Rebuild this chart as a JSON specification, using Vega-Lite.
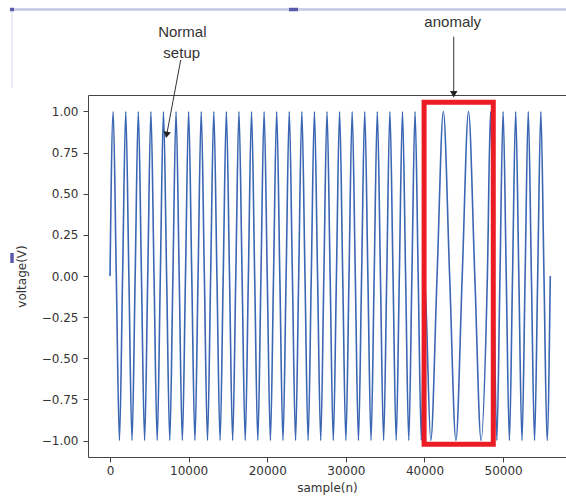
{
  "$schema": "https://vega.github.io/schema/vega-lite/v6.json",
  "autosize": {"type": "none"},
  "padding": {"left": 88, "top": 95, "right": 0, "bottom": 43},
  "width": 478,
  "height": 362,
  "background": "white",
  "config": {
    "view": {"stroke": "#444", "strokeWidth": 1},
    "font": "DejaVu Sans",
    "axis": {
      "labelFont": "DejaVu Sans", "labelFontSize": 12, "labelColor": "#333",
      "titleFont": "DejaVu Sans", "titleFontSize": 12, "titleFontWeight": "normal", "titleColor": "#333",
      "tickColor": "#444", "tickSize": 5, "domain": false, "grid": false
    }
  },
  "encoding": {
    "x": {"field": "n", "type": "quantitative",
      "scale": {"domain": [-2800, 58000], "nice": false, "zero": false},
      "axis": {"values": [0, 10000, 20000, 30000, 40000, 50000], "format": "d", "title": "sample(n)", "labelPadding": 3, "titlePadding": 6, "labelFlush": false}},
    "y": {"field": "v", "type": "quantitative",
      "scale": {"domain": [-1.1, 1.1], "nice": false, "zero": false},
      "axis": {"values": [-1, -0.75, -0.5, -0.25, 0, 0.25, 0.5, 0.75, 1], "format": ".2f", "title": "voltage(V)", "labelPadding": 5, "titlePadding": 13}}
  },
  "layer": [
    {
      "data": {"values": [
        {"n":0,"v":0},{"n":400,"v":1},{"n":800,"v":0},{"n":1200,"v":-1},
        {"n":1600,"v":0},{"n":2000,"v":1},{"n":2400,"v":0},{"n":2800,"v":-1},
        {"n":3200,"v":0},{"n":3600,"v":1},{"n":4000,"v":0},{"n":4400,"v":-1},
        {"n":4800,"v":0},{"n":5200,"v":1},{"n":5600,"v":0},{"n":6000,"v":-1},
        {"n":6400,"v":0},{"n":6800,"v":1},{"n":7200,"v":0},{"n":7600,"v":-1},
        {"n":8000,"v":0},{"n":8400,"v":1},{"n":8800,"v":0},{"n":9200,"v":-1},
        {"n":9600,"v":0},{"n":10000,"v":1},{"n":10400,"v":0},{"n":10800,"v":-1},
        {"n":11200,"v":0},{"n":11600,"v":1},{"n":12000,"v":0},{"n":12400,"v":-1},
        {"n":12800,"v":0},{"n":13200,"v":1},{"n":13600,"v":0},{"n":14000,"v":-1},
        {"n":14400,"v":0},{"n":14800,"v":1},{"n":15200,"v":0},{"n":15600,"v":-1},
        {"n":16000,"v":0},{"n":16400,"v":1},{"n":16800,"v":0},{"n":17200,"v":-1},
        {"n":17600,"v":0},{"n":18000,"v":1},{"n":18400,"v":0},{"n":18800,"v":-1},
        {"n":19200,"v":0},{"n":19600,"v":1},{"n":20000,"v":0},{"n":20400,"v":-1},
        {"n":20800,"v":0},{"n":21200,"v":1},{"n":21600,"v":0},{"n":22000,"v":-1},
        {"n":22400,"v":0},{"n":22800,"v":1},{"n":23200,"v":0},{"n":23600,"v":-1},
        {"n":24000,"v":0},{"n":24400,"v":1},{"n":24800,"v":0},{"n":25200,"v":-1},
        {"n":25600,"v":0},{"n":26000,"v":1},{"n":26400,"v":0},{"n":26800,"v":-1},
        {"n":27200,"v":0},{"n":27600,"v":1},{"n":28000,"v":0},{"n":28400,"v":-1},
        {"n":28800,"v":0},{"n":29200,"v":1},{"n":29600,"v":0},{"n":30000,"v":-1},
        {"n":30400,"v":0},{"n":30800,"v":1},{"n":31200,"v":0},{"n":31600,"v":-1},
        {"n":32000,"v":0},{"n":32400,"v":1},{"n":32800,"v":0},{"n":33200,"v":-1},
        {"n":33600,"v":0},{"n":34000,"v":1},{"n":34400,"v":0},{"n":34800,"v":-1},
        {"n":35200,"v":0},{"n":35600,"v":1},{"n":36000,"v":0},{"n":36400,"v":-1},
        {"n":36800,"v":0},{"n":37200,"v":1},{"n":37600,"v":0},{"n":38000,"v":-1},
        {"n":38400,"v":0},{"n":38800,"v":1},{"n":39200,"v":0},{"n":39600,"v":-1},
        {"n":40000,"v":0},{"n":40800,"v":-1},{"n":41600,"v":0},{"n":42400,"v":1},
        {"n":43200,"v":0},{"n":44000,"v":-1},{"n":44800,"v":0},{"n":45600,"v":1},
        {"n":46400,"v":0},{"n":47200,"v":-1},{"n":48000,"v":0},
        {"n":48400,"v":1},{"n":48800,"v":0},{"n":49200,"v":-1},
        {"n":49600,"v":0},{"n":50000,"v":1},{"n":50400,"v":0},{"n":50800,"v":-1},
        {"n":51200,"v":0},{"n":51600,"v":1},{"n":52000,"v":0},{"n":52400,"v":-1},
        {"n":52800,"v":0},{"n":53200,"v":1},{"n":53600,"v":0},{"n":54000,"v":-1},
        {"n":54400,"v":0},{"n":54800,"v":1},{"n":55200,"v":0},{"n":55600,"v":-1},
        {"n":56000,"v":0}
      ]},
      "mark": {"type": "line", "color": "#3a66b4", "strokeWidth": 1.6, "interpolate": "monotone", "clip": true}
    },
    {
      "data": {"values": [{"n": 39950, "n2": 48750, "v": 1.056, "v2": -1.022}]},
      "mark": {"type": "rect", "fill": null, "fillOpacity": 0, "stroke": "#ec1c24", "strokeWidth": 5},
      "encoding": {"x2": {"field": "n2"}, "y2": {"field": "v2"}}
    },
    {
      "data": {"values": [
        {"n": 8993, "v": 1.3127, "n2": 7205, "v2": 0.8578},
        {"n": 43720, "v": 1.4543, "n2": 43720, "v2": 1.1049}
      ]},
      "mark": {"type": "rule", "color": "#333", "strokeWidth": 1},
      "encoding": {"x2": {"field": "n2"}, "y2": {"field": "v2"}}
    },
    {
      "data": {"values": [{"n": 7205, "v": 0.8578}]},
      "mark": {"type": "point", "shape": "triangle-down", "filled": true, "color": "#222", "opacity": 1, "size": 55, "angle": 10.6}
    },
    {
      "data": {"values": [{"n": 43720, "v": 1.1049}]},
      "mark": {"type": "point", "shape": "triangle-down", "filled": true, "color": "#222", "opacity": 1, "size": 55}
    },
    {
      "data": {"values": [
        {"n": 9196, "v": 1.4847, "label": "Normal"},
        {"n": 9120, "v": 1.3534, "label": "setup"},
        {"n": 43590, "v": 1.5455, "label": "anomaly"}
      ]},
      "mark": {"type": "text", "font": "Liberation Sans", "fontSize": 15, "color": "#333", "align": "center", "baseline": "middle"},
      "encoding": {"text": {"field": "label"}}
    },
    {
      "data": {"values": [
        {"n": -12465, "v": 1.6196, "n2": 58000, "v2": 1.6196}
      ]},
      "mark": {"type": "rule", "color": "#c4c4e4", "strokeWidth": 2.5},
      "encoding": {"x2": {"field": "n2"}, "y2": {"field": "v2"}}
    },
    {
      "data": {"values": [
        {"n": -12465, "v": 1.6196, "n2": -12465, "v2": 1.1425}
      ]},
      "mark": {"type": "rule", "color": "#e6e6f2", "strokeWidth": 1.5},
      "encoding": {"x2": {"field": "n2"}, "y2": {"field": "v2"}}
    },
    {
      "data": {"values": [
        {"n": -12720, "v": 1.6196, "n2": -12210, "v2": 1.6196},
        {"n": 22768, "v": 1.6196, "n2": 23912, "v2": 1.6196},
        {"n": -12465, "v": 0.140, "n2": -12465, "v2": 0.079}
      ]},
      "mark": {"type": "rule", "color": "#5b5bab", "strokeWidth": 3.5},
      "encoding": {"x2": {"field": "n2"}, "y2": {"field": "v2"}}
    }
  ]
}
